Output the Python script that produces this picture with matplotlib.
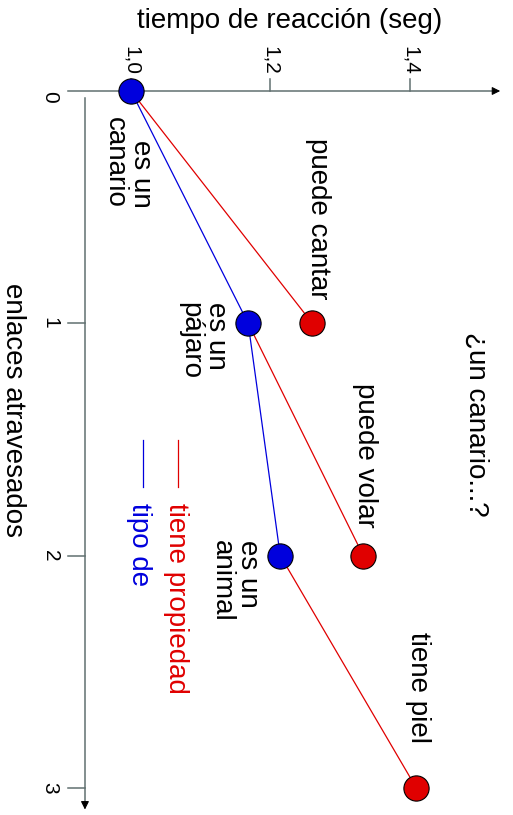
import matplotlib.pyplot as plt

plt.rcParams['font.family'] = ['Liberation Sans', 'DejaVu Sans']

# data: enlaces atravesados vs tiempo de reaccion
tipo_enlaces = [0, 1, 2]
tipo_tiempo = [1.0, 1.168, 1.214]
tipo_labels = ['es un\ncanario', 'es un\npájaro', 'es un\nanimal']
prop_enlaces = [1, 2, 3]
prop_tiempo = [1.26, 1.333, 1.409]
prop_labels = ['puede cantar', 'puede volar', 'tiene piel']
x_ticks = [1.0, 1.2, 1.4]
x_ticklabels = ['1,0', '1,2', '1,4']
y_ticks = [0, 1, 2, 3]

RED = '#e00000'
BLUE = '#0000dd'
AXC = '#607070'

fig = plt.figure(figsize=(5.13, 8.15), dpi=100)
ax = fig.add_axes([0, 0, 1, 1])
ax.set_xlim(0.8122, 1.5477)
ax.set_ylim(3.1166, -0.3917)
ax.axis('off')

# axes with arrows
ax.plot([0.9097, 1.525], [0, 0], color=AXC, lw=1.1)
ax.annotate('', xy=(1.5333, 0), xytext=(1.52, 0),
            arrowprops=dict(arrowstyle='-|>', color='black', lw=0.8, mutation_scale=12))
ax.plot([0.934, 0.934], [0.03, 3.07], color=AXC, lw=1.1)
ax.annotate('', xy=(0.934, 3.105), xytext=(0.934, 3.06),
            arrowprops=dict(arrowstyle='-|>', color='black', lw=0.8, mutation_scale=12))

for t, lab in zip(x_ticks, x_ticklabels):
    ax.plot([t, t], [0, -0.05], color=AXC, lw=1.1)
    ax.text(t, -0.069, lab, rotation=-90, ha='center', va='bottom', fontsize=15)
for e in y_ticks:
    if e > 0:
        ax.plot([0.9097, 0.934], [e, e], color=AXC, lw=1.1)
    ax.text(0.8839, e + (0.025 if e == 0 else 0), str(e), rotation=-90,
            ha='center', va='center', fontsize=15)

ax.text(1.228, -0.302, 'tiempo de reacción (seg)', ha='center', va='center', fontsize=20)
ax.text(0.8315, 1.374, 'enlaces atravesados', rotation=-90, ha='center', va='center', fontsize=20)

# red property links
for i in range(3):
    ax.plot([tipo_tiempo[i], prop_tiempo[i]], [tipo_enlaces[i], prop_enlaces[i]],
            color=RED, lw=0.9, zorder=2)
ax.plot(tipo_tiempo, tipo_enlaces, color=BLUE, lw=0.9, zorder=2)
ax.scatter(tipo_tiempo, tipo_enlaces, s=330, color=BLUE, edgecolor='black', lw=0.8, zorder=3)
ax.scatter(prop_tiempo, prop_enlaces, s=330, color=RED, edgecolor='black', lw=0.8, zorder=3)

# node labels
tipo_pos = [(0.996, 0.112), (1.103, 0.908), (1.149, 1.933)]
tipo_align = ['right', 'left', 'left']
for (t, e), lab, al in zip(tipo_pos, tipo_labels, tipo_align):
    ax.text(t, e, lab, rotation=-90, ha='center', va='top', fontsize=20,
            multialignment=al, linespacing=1.0)
prop_pos = [(1.268, 0.202), (1.335, 1.257), (1.411, 2.329)]
for (t, e), lab in zip(prop_pos, prop_labels):
    ax.text(t, e, lab, rotation=-90, ha='center', va='top', fontsize=20)

ax.text(1.495, 1.037, '¿un canario...?', rotation=-90, ha='center', va='top', fontsize=20)

# legend
ax.plot([1.067, 1.067], [1.502, 1.705], color=RED, lw=0.9)
ax.text(1.065, 1.774, 'tiene propiedad', rotation=-90, ha='center', va='top',
        fontsize=20, color=RED)
ax.plot([1.017, 1.017], [1.502, 1.705], color=BLUE, lw=0.9)
ax.text(1.011, 1.774, 'tipo de', rotation=-90, ha='center', va='top',
        fontsize=20, color=BLUE)

fig.savefig('out.png', dpi=100)
